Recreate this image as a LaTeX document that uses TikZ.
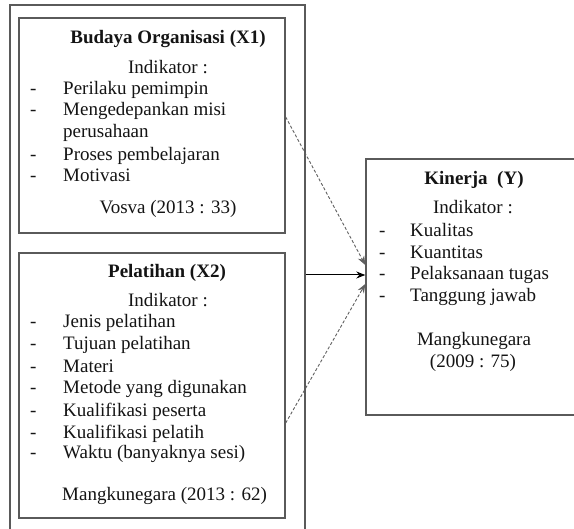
\documentclass[tikz,border=0pt]{standalone}
\usepackage{fontspec}
\setmainfont{Liberation Serif}
\usetikzlibrary{arrows.meta}
\definecolor{boxgray}{HTML}{5A5A5A}
\definecolor{dashgray}{HTML}{606060}
\definecolor{txtcol}{HTML}{141414}
\tikzset{
  frame/.style={draw=boxgray, line width=1.4pt, rectangle, inner sep=0pt},
  txt/.style={inner sep=0pt, text=txtcol, font=\fontsize{19}{22}\selectfont, anchor=base},
  txtl/.style={txt, anchor=base west},
  ttl/.style={txt, font=\fontsize{19}{22}\selectfont\bfseries},
  dashconn/.style={draw=dashgray, line width=0.9pt, dash pattern=on 3pt off 2pt, -{Stealth[length=9pt,width=7pt]}},
  solidconn/.style={draw=black, line width=1pt, -{Stealth[length=9pt,width=7pt]}}
}
\begin{document}
\begin{tikzpicture}[x=1pt,y=-1pt]
\useasboundingbox (0,0) rectangle (574,529);
\clip (0,0) rectangle (574,529);
\fill[white] (0,0) rectangle (574,529);
% boxes
\node[frame, minimum width=295pt, minimum height=540pt] (outer) at (157.5,275) {};
\node[frame, minimum width=266pt, minimum height=215pt] (b1) at (152,125.5) {};
\node[frame, minimum width=266pt, minimum height=265pt] (b2) at (152,385.5) {};
\node[frame, minimum width=234pt, minimum height=256pt] (b3) at (483,287) {};
% box 1 text
\node[ttl] (t1) at (168,44) {Budaya Organisasi (X1)};
\node[txt] (i1) at (168,74) {Indikator :};
\node[txtl] (d11) at (30,95) {-};
\node[txtl] (a11) at (63,95) {Perilaku pemimpin};
\node[txtl] (d12) at (30,116) {-};
\node[txtl] (a12) at (63,116) {Mengedepankan misi};
\node[txtl] (a12b) at (63,138) {perusahaan};
\node[txtl] (d13) at (30,161) {-};
\node[txtl] (a13) at (63,161) {Proses pembelajaran};
\node[txtl] (d14) at (30,182) {-};
\node[txtl] (a14) at (63,182) {Motivasi};
\node[txt] (s1) at (168,214) {Vosva (2013 : 33)};
% box 2 text
\node[ttl] (t2) at (167,278) {Pelatihan (X2)};
\node[txt] (i2) at (168,307) {Indikator :};
\node[txtl] (d21) at (30,328) {-};
\node[txtl] (a21) at (63,328) {Jenis pelatihan};
\node[txtl] (d22) at (30,350) {-};
\node[txtl] (a22) at (63,350) {Tujuan pelatihan};
\node[txtl] (d23) at (30,373) {-};
\node[txtl] (a23) at (63,373) {Materi};
\node[txtl] (d24) at (30,394) {-};
\node[txtl] (a24) at (63,394) {Metode yang digunakan};
\node[txtl] (d25) at (30,417) {-};
\node[txtl] (a25) at (63,417) {Kualifikasi peserta};
\node[txtl] (d26) at (30,439) {-};
\node[txtl] (a26) at (63,439) {Kualifikasi pelatih};
\node[txtl] (d27) at (30,459) {-};
\node[txtl] (a27) at (63,459) {Waktu (banyaknya sesi)};
\node[txtl] (s2) at (62,501) {Mangkunegara (2013 : 62)};
% box 3 text
\node[ttl] (t3) at (474,185) {Kinerja\ \ (Y)};
\node[txt] (i3) at (473,214) {Indikator :};
\node[txtl] (d31) at (379,237) {-};
\node[txtl] (a31) at (410,237) {Kualitas};
\node[txtl] (d32) at (379,259) {-};
\node[txtl] (a32) at (410,259) {Kuantitas};
\node[txtl] (d33) at (379,280) {-};
\node[txtl] (a33) at (410,280) {Pelaksanaan tugas};
\node[txtl] (d34) at (379,302) {-};
\node[txtl] (a34) at (410,302) {Tanggung jawab};
\node[txt] (s3a) at (474,346) {Mangkunegara};
\node[txt] (s3b) at (473,368) {(2009 : 75)};
% connectors
\draw[dashconn] ([yshift=8.5pt]b1.east) -- ([yshift=22pt]b3.west);
\draw[solidconn] (outer.east) -- ([yshift=12pt]b3.west);
\draw[dashconn] ([yshift=-37.5pt]b2.east) -- ([yshift=3pt]b3.west);
\end{tikzpicture}
\end{document}
